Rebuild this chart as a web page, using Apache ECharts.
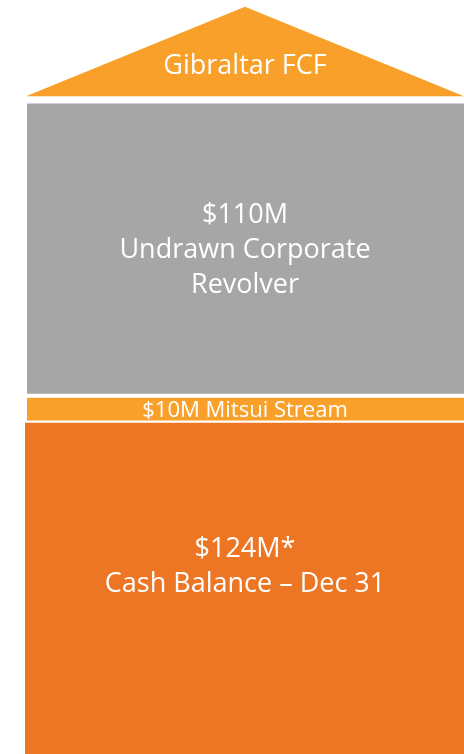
<!DOCTYPE html>
<html>
<head>
<meta charset="utf-8">
<script src="https://cdn.jsdelivr.net/npm/echarts@6/dist/echarts.min.js"></script>
<style>
  html, body { margin: 0; padding: 0; background: #fff; }
  #liquidity { width: 464px; height: 754px; }
</style>
</head>
<body>
<div id="liquidity"></div>
<script>
// stacked from the bottom up
const categories = ['Liquidity'];
const segmentNames = ['Cash Balance', 'Mitsui Stream', 'Undrawn Corporate Revolver'];
const segmentValues = [124, 10, 110];
const segmentLabels = [
    '$124M*\nCash Balance – Dec 31',
    '$10M Mitsui Stream',
    '$110M\nUndrawn Corporate\nRevolver'
];
// roof on top of the stack: [base, apex] in $M on the same scale
const roofName = 'Gibraltar FCF';
const roofRange = [246, 279.5];
const axisMax = 282;

const colors = ['#ED7624', '#F9A02A', '#A6A6A6'];
const fontFamily = '"Open Sans", "Noto Sans", sans-serif';

const chart = echarts.init(document.getElementById('liquidity'));

const barSeries = segmentNames.map((name, i) => ({
    name: name,
    type: 'bar',
    stack: 'total',
    barWidth: '100%',
    data: [segmentValues[i]],
    itemStyle: {
        color: colors[i],
        borderColor: '#fff',
        borderWidth: i === 0 ? 0 : 2
    },
    label: {
        show: true,
        position: 'inside',
        formatter: segmentLabels[i],
        color: '#fff',
        fontFamily: fontFamily,
        fontSize: i === 1 ? 22 : 27,
        lineHeight: 35,
        offset: i === 0 ? [-1, -21] : [-1, 2]
    }
}));

const roofSeries = {
    name: roofName,
    type: 'custom',
    data: [[0, roofRange[0], roofRange[1]]],
    renderItem: function (params, api) {
        const base = api.coord([api.value(0), api.value(1)]);
        const apex = api.coord([api.value(0), api.value(2)]);
        const half = api.size([1, 0])[0] / 2 - 2;
        const cx = base[0] - 1;
        return {
            type: 'group',
            children: [
                {
                    type: 'polygon',
                    shape: {
                        points: [[cx - half, base[1]], [cx + half, base[1]], [cx, apex[1]]]
                    },
                    style: { fill: colors[1] }
                },
                {
                    type: 'text',
                    x: cx,
                    y: base[1] - 30,
                    style: {
                        text: roofName,
                        fill: '#fff',
                        font: '27px ' + fontFamily,
                        align: 'center',
                        verticalAlign: 'middle'
                    }
                }
            ]
        };
    }
};

chart.setOption({
    animation: false,
    grid: { left: 25, width: 442, top: 0, bottom: 0, outerBoundsMode: 'none' },
    xAxis: { type: 'category', data: categories, show: false },
    yAxis: { type: 'value', min: 0, max: axisMax, show: false },
    series: barSeries.concat([roofSeries])
});
</script>
</body>
</html>
